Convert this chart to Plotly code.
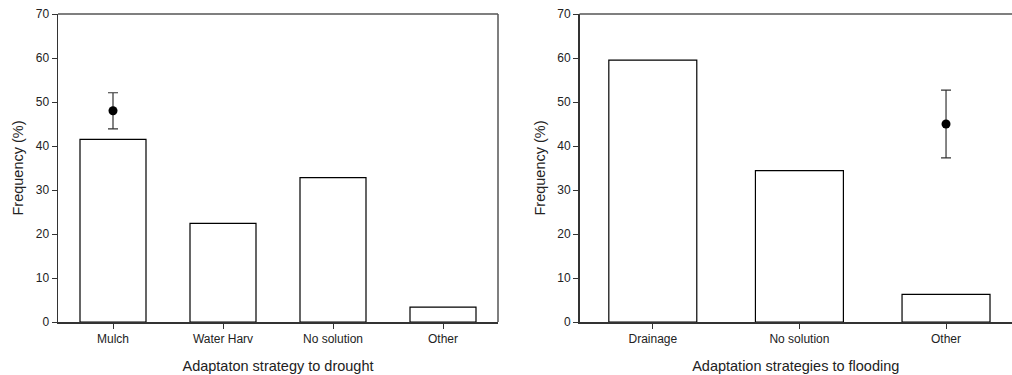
import plotly.graph_objects as go

drought_cats = ["Mulch", "Water Harv", "No solution", "Other"]
drought_vals = [41.5, 22.4, 32.8, 3.4]
drought_pt_cat = ["Mulch"]
drought_pt_val = [48.0]
drought_pt_err = [4.1]

flood_cats = ["Drainage", "No solution", "Other"]
flood_vals = [59.5, 34.4, 6.3]
flood_pt_cat = ["Other"]
flood_pt_val = [45.0]
flood_pt_err = [7.7]

y_ticks = [0, 10, 20, 30, 40, 50, 60, 70]

W, H = 1012, 375
fig = go.Figure()

bar_style = dict(marker=dict(color="white", line=dict(color="black", width=1.2)),
                 width=0.6, showlegend=False, hoverinfo="skip")
pt_style = dict(mode="markers", marker=dict(color="black", size=9), showlegend=False)

fig.add_trace(go.Bar(x=drought_cats, y=drought_vals, xaxis="x", yaxis="y", **bar_style))
fig.add_trace(go.Scatter(x=drought_pt_cat, y=drought_pt_val, xaxis="x", yaxis="y",
                         error_y=dict(type="data", array=drought_pt_err, color="#333",
                                      thickness=1.2, width=5), **pt_style))
fig.add_trace(go.Bar(x=flood_cats, y=flood_vals, xaxis="x2", yaxis="y2", **bar_style))
fig.add_trace(go.Scatter(x=flood_pt_cat, y=flood_pt_val, xaxis="x2", yaxis="y2",
                         error_y=dict(type="data", array=flood_pt_err, color="#333",
                                      thickness=1.2, width=5), **pt_style))

font = dict(family="Liberation Sans, Arial, sans-serif", color="#222")
xcommon = dict(showline=True, linecolor="#333", linewidth=2, mirror=False,
               ticks="outside", ticklen=5, tickcolor="#333", showgrid=False,
               tickfont=dict(size=12, **font), title_font=dict(size=14.5, **font),
               title_standoff=15, zeroline=False, type="category", automargin=False)
ycommon = dict(showline=True, linecolor="#333", linewidth=1.5,
               ticks="outside", ticklen=5, tickcolor="#333", showgrid=False,
               range=[0, 70], tickvals=y_ticks, tickfont=dict(size=12, **font),
               title_font=dict(size=14.5, **font), title_text="Frequency (%)",
               zeroline=False, automargin=False)

fig.update_layout(
    width=W, height=H,
    margin=dict(l=0, r=0, t=14, b=53),
    plot_bgcolor="white", paper_bgcolor="white",
    xaxis=dict(domain=[58 / W, 498 / W], range=[-0.5, 3.5], anchor="y",
               title_text="Adaptaton strategy to drought", **xcommon),
    yaxis=dict(domain=[0, 1], anchor="x", title_standoff=8, **ycommon),
    xaxis2=dict(domain=[579.5 / W, 1.0], range=[-0.5, 2.45], anchor="y2",
                title_text="Adaptation strategies to flooding", **xcommon),
    yaxis2=dict(domain=[0, 1], anchor="x2", title_standoff=8, **ycommon),
    shapes=[
        dict(type="line", xref="x domain", yref="y domain", x0=0, x1=1, y0=1, y1=1,
             line=dict(color="#555", width=1.5)),
        dict(type="line", xref="x domain", yref="y domain", x0=1, x1=1, y0=0, y1=1,
             line=dict(color="#555", width=1.5)),
        dict(type="line", xref="x2 domain", yref="y2 domain", x0=0, x1=1, y0=1, y1=1,
             line=dict(color="#555", width=1.5)),
    ],
)

fig.write_html("out.html",
               config={"displayModeBar": False, "staticPlot": True},
               post_script="document.body.style.margin='0';document.body.style.overflow='hidden';")
